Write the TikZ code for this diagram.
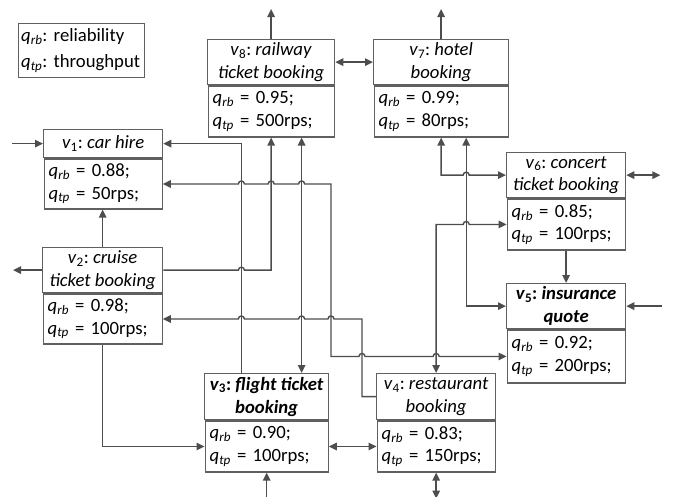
\documentclass[tikz,border=0pt]{standalone}
\usepackage{fontspec}
\setmainfont{Carlito}
\usetikzlibrary{arrows.meta,positioning,calc}
\definecolor{LineGray}{RGB}{77,77,77}
\definecolor{BoxGray}{RGB}{96,96,96}
\newcommand{\vname}[1]{\textit{v}\textsubscript{#1}}
\newcommand{\qrb}{\textit{q}\textsubscript{\textit{rb}}}
\newcommand{\qtp}{\textit{q}\textsubscript{\textit{tp}}}
% small hop over a crossing track, going right / going left
\newcommand{\hopR}[2]{-- ($(#1 |- #2)+(-3,0)$) arc[start angle=180, end angle=0, radius=3pt]}
\newcommand{\hopL}[2]{-- ($(#1 |- #2)+(3,0)$) arc[start angle=0, end angle=180, radius=3pt]}
\frenchspacing

\begin{document}
\begin{tikzpicture}[x=1pt, y=-1pt,
        font=\fontsize{18.7}{22.8}\selectfont,
        hd/.style={draw=BoxGray, line width=1.3pt, minimum width=#1, align=center,
                   inner xsep=1pt, inner ysep=1pt, minimum height=45pt},
        hdone/.style={hd=#1, minimum height=28pt},
        val/.style={draw=BoxGray, line width=1.3pt, text width=#1, align=left,
                    inner xsep=4.5pt, inner ysep=1pt, minimum height=51pt},
        wire/.style={line width=1.4pt, LineGray},
        arr/.style={wire, -{Triangle[length=8pt, width=7.5pt]}},
        darr/.style={wire, {Triangle[length=8pt, width=7.5pt]}-{Triangle[length=8pt, width=7.5pt]}}
      ]
        \useasboundingbox (0,0) rectangle (674,496);
        % legend
        \node[draw=BoxGray, line width=1.3pt, anchor=north west, minimum width=126pt,
              minimum height=54pt, text width=121pt, align=left, inner xsep=2.5pt,
              font=\fontsize{18.7}{26}\selectfont] (key) at (18,23)
              {\qrb: reliability\\\qtp: throughput};
        % services
        \node[hd=127pt, anchor=north west] (v8t) at (207,39) {\vname{8}: \textit{railway}\\\textit{ticket booking}};
        \node[val=117pt, below=0pt of v8t] (v8v) {\qrb{} = 0.95;\\\qtp{} = 500rps;};
        \node[hd=135pt, anchor=north west] (v7t) at (373,39) {\vname{7}: \textit{hotel}\\\textit{booking}};
        \node[val=125pt, below=0pt of v7t] (v7v) {\qrb{} = 0.99;\\\qtp{} = 80rps;};
        \node[hdone=119pt, anchor=north west] (v1t) at (43,129) {\vname{1}: \textit{car hire}};
        \node[val=109pt, below=0pt of v1t, minimum height=50pt] (v1v) {\qrb{} = 0.88;\\\qtp{} = 50rps;};
        \node[hd=119pt, anchor=north west] (v6t) at (506,152) {\vname{6}: \textit{concert}\\\textit{ticket booking}};
        \node[val=109pt, below=0pt of v6t] (v6v) {\qrb{} = 0.85;\\\qtp{} = 100rps;};
        \node[hd=120pt, anchor=north west] (v2t) at (42,247) {\vname{2}: \textit{cruise}\\\textit{ticket booking}};
        \node[val=110pt, below=0pt of v2t, minimum height=50pt] (v2v) {\qrb{} = 0.98;\\\qtp{} = 100rps;};
        \node[hd=119pt, anchor=north west] (v5t) at (506,283) {\textbf{\vname{5}: \textit{insurance}}\\\textbf{\textit{quote}}};
        \node[val=109pt, below=0pt of v5t, minimum height=53pt] (v5v) {\qrb{} = 0.92;\\\qtp{} = 200rps;};
        \node[hd=124pt, anchor=north west, minimum height=46pt] (v3t) at (204,373) {\textbf{\vname{3}: \textit{flight ticket}}\\\textbf{\textit{booking}}};
        \node[val=114pt, below=0pt of v3t] (v3v) {\qrb{} = 0.90;\\\qtp{} = 100rps;};
        \node[hd=119pt, anchor=north west, minimum height=46pt] (v4t) at (376,373) {\vname{4}: \textit{restaurant}\\\textit{booking}};
        \node[val=109pt, below=0pt of v4t] (v4v) {\qrb{} = 0.83;\\\qtp{} = 150rps;};
        % free ends and tracks
        \coordinate[left=31pt of v1t.west] (v1in);
        \coordinate[left=29pt of v2t.west] (v2out);
        \coordinate[above=30pt of v8t.north] (v8out);
        \coordinate[above=30pt of v7t.north] (v7out);
        \coordinate[right=34pt of v6t.east] (v6out);
        \coordinate[right=36pt of v5t.east] (v5in);
        \coordinate[below=26pt of v3v.south] (v3in);
        \coordinate[below=26pt of v4v.south] (v4out);
        \coordinate (ta) at (241.4,0);
        \coordinate (td) at (301.6,0);
        \coordinate (tb) at (331,0);
        \coordinate (tc) at (362,0);
        \coordinate (te) at (466.2,0);
        % connectors
        \draw[arr] (v1in) -- (v1t.west);
        \draw[arr] (v2t.west) -- (v2out);
        \draw[arr] (v2t.north) -- (v2t.north |- v1v.south);
        \draw[arr] (v2t.east) \hopR{ta}{v2t.east} -| (v8v.south);
        \draw[arr] (ta |- v3t.north) |- (v1t.east);
        \draw[darr] (td |- v8v.south) -- (td |- v3t.north);
        \draw[darr] (v1v.east) \hopR{ta}{v1v.east} \hopR{v8v}{v1v.east} \hopR{td}{v1v.east}
          -- (tb |- v1v.east) -- (tb |- v5v.west) \hopR{tc}{v5v.west} \hopR{v4t}{v5v.west} -- (v5v.west);
        \draw[arr] (v4t.west) -- (tc |- v4t.west) -- (tc |- v2v.east)
          \hopL{tb}{v2v.east} \hopL{td}{v2v.east} \hopL{ta}{v2v.east} -- (v2v.east);
        \draw[arr] (v2v.south) |- (v3v.west);
        \draw[darr] (v3v.east) -- (v4v.west);
        \draw[arr] (v3in) -- (v3v.south);
        \draw[darr] (v4v.south) -- (v4out);
        \draw[darr] (v4t.north) -- (v4t.north |- v6v.west) \hopR{te}{v6v.west} -- (v6v.west);
        \draw[darr] (v7v.south) -- (v7v.south |- v6t.west) \hopR{te}{v6t.west} -- (v6t.west);
        \draw[darr] (te |- v7v.south) |- (v5t.west);
        \draw[arr] (v6v.south) -- (v5t.north);
        \draw[darr] (v6t.east) -- (v6out);
        \draw[arr] (v5in) -- (v5t.east);
        \draw[arr] (v8t.north) -- (v8out);
        \draw[arr] (v7t.north) -- (v7out);
        \draw[darr] (v8t.east) -- (v7t.west);
      \end{tikzpicture}
\end{document}
